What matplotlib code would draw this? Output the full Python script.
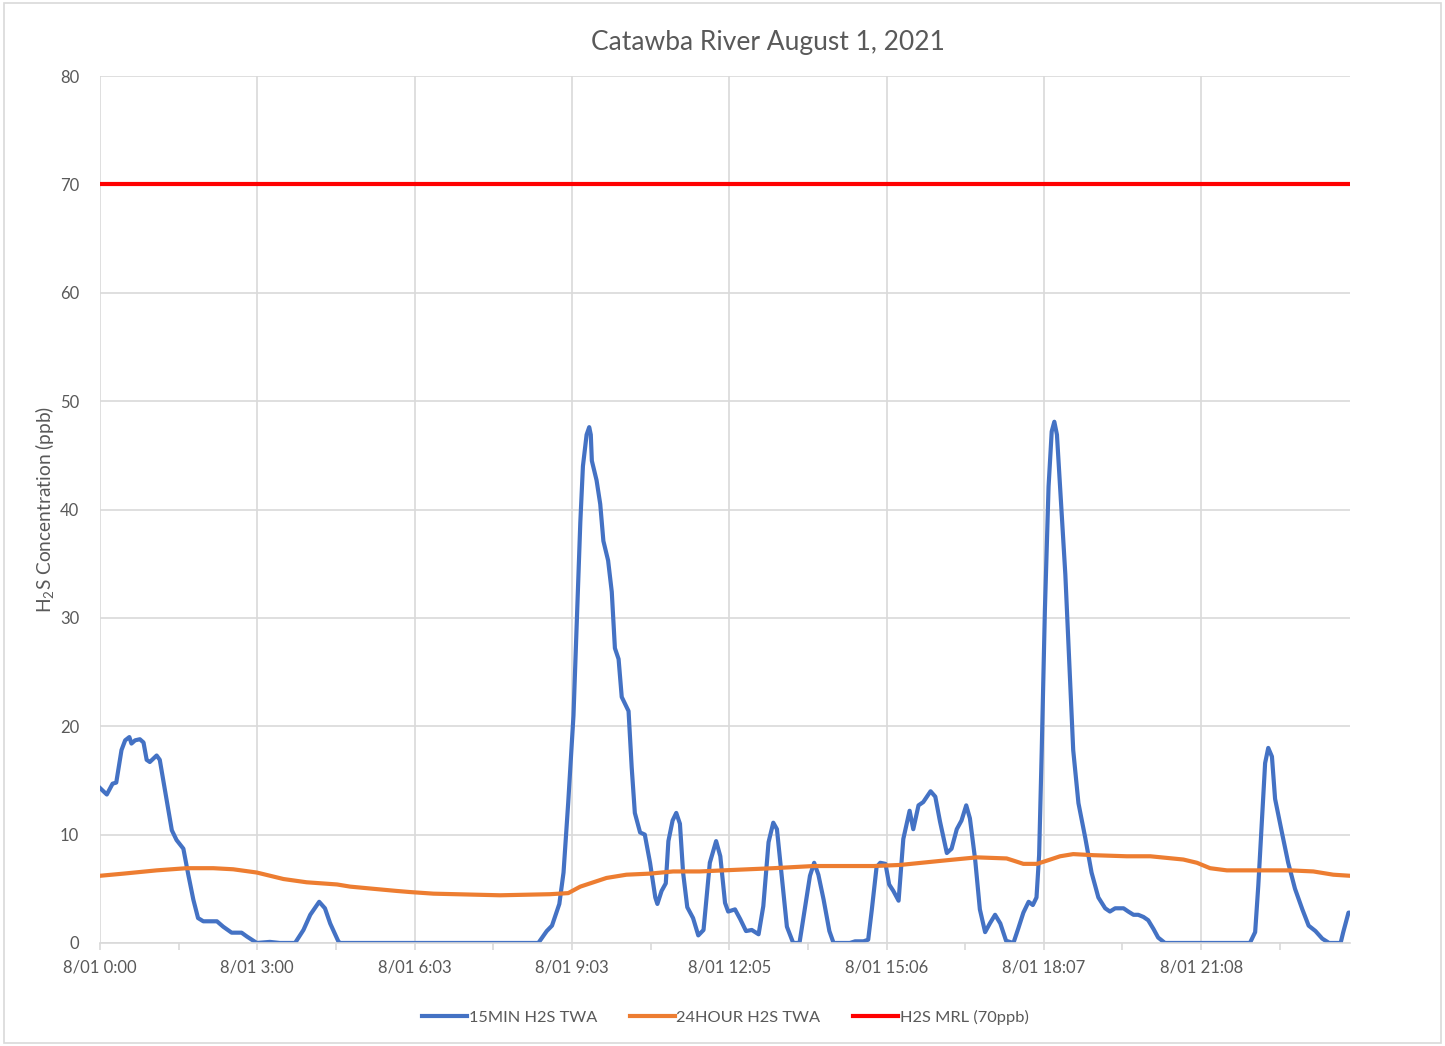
import matplotlib
matplotlib.use('Agg')
import matplotlib.pyplot as plt
from matplotlib.patches import Rectangle

plt.rcParams['font.family'] = ['Lato', 'DejaVu Sans']
plt.rcParams['mathtext.fontset'] = 'custom'
plt.rcParams['mathtext.rm'] = 'Lato'
plt.rcParams['mathtext.it'] = 'Lato:italic'

# hours since 8/01 0:00 and H2S (ppb)
t15 = [0.00, 0.13, 0.24, 0.31, 0.41, 0.48, 0.56, 0.60, 0.67, 0.76, 0.83, 0.89, 0.95, 1.08, 1.14,
       1.27, 1.37, 1.46, 1.59, 1.68, 1.78, 1.87, 1.97, 2.23, 2.35, 2.51, 2.70, 2.80, 2.99, 3.24,
       3.43, 3.72, 3.88, 4.01, 4.18, 4.29, 4.39, 4.55, 4.58, 8.36, 8.52, 8.62, 8.76, 8.84, 8.93,
       9.03, 9.09, 9.16, 9.21, 9.28, 9.33, 9.36, 9.38, 9.47, 9.54, 9.60, 9.69, 9.76, 9.82, 9.89,
       9.95, 10.08, 10.14, 10.20, 10.30, 10.39, 10.49, 10.59, 10.63, 10.71, 10.79, 10.84, 10.92,
       10.99, 11.06, 11.12, 11.20, 11.31, 11.41, 11.51, 11.63, 11.75, 11.83, 11.92, 11.98, 12.11,
       12.21, 12.32, 12.43, 12.56, 12.65, 12.75, 12.84, 12.91, 13.00, 13.10, 13.22, 13.34, 13.45,
       13.54, 13.62, 13.70, 13.80, 13.91, 13.99, 14.30, 14.40, 14.56, 14.65, 14.72, 14.81, 14.88,
       14.98, 15.05, 15.13, 15.23, 15.32, 15.44, 15.51, 15.61, 15.70, 15.84, 15.93, 16.02, 16.15,
       16.24, 16.34, 16.43, 16.52, 16.59, 16.69, 16.78, 16.88, 16.97, 17.07, 17.17, 17.28, 17.42,
       17.51, 17.61, 17.71, 17.79, 17.86, 17.91, 17.96, 18.02, 18.09, 18.15, 18.20, 18.25, 18.31,
       18.41, 18.50, 18.56, 18.66, 18.79, 18.91, 19.04, 19.17, 19.26, 19.36, 19.52, 19.61, 19.71,
       19.80, 19.90, 19.99, 20.09, 20.18, 20.31, 21.93, 22.03, 22.09, 22.16, 22.22, 22.28, 22.35,
       22.41, 22.54, 22.66, 22.79, 22.93, 23.05, 23.18, 23.31, 23.44, 23.66, 23.71, 23.81, 23.84]
twa15 = [14.3, 13.7, 14.7, 14.8, 17.8, 18.7, 19.0, 18.4, 18.7, 18.8, 18.5, 16.9, 16.7, 17.3, 16.9,
         13.2, 10.4, 9.5, 8.7, 6.4, 4.0, 2.3, 2.0, 2.0, 1.5, 0.95, 0.95, 0.6, 0.0, 0.1,
         0.0, 0.0, 1.2, 2.6, 3.8, 3.2, 1.8, 0.1, 0.0, 0.0, 1.1, 1.6, 3.6, 6.5, 13.0,
         21.0, 29.1, 38.8, 44.0, 46.9, 47.6, 46.9, 44.5, 42.7, 40.5, 37.1, 35.3, 32.4, 27.2, 26.2,
         22.7, 21.4, 16.2, 12.0, 10.2, 10.0, 7.4, 4.2, 3.6, 4.8, 5.5, 9.4, 11.3,
         12.0, 11.0, 6.5, 3.3, 2.3, 0.7, 1.2, 7.4, 9.4, 8.0, 3.7, 2.9, 3.1,
         2.2, 1.1, 1.2, 0.8, 3.4, 9.3, 11.1, 10.5, 6.2, 1.5, 0.0, 0.0, 3.4,
         6.2, 7.4, 6.3, 4.0, 1.1, 0.0, 0.0, 0.15, 0.15, 0.3, 3.1, 7.0, 7.4,
         7.3, 5.4, 4.8, 3.9, 9.6, 12.2, 10.5, 12.7, 13.0, 14.0, 13.5, 11.2, 8.3,
         8.7, 10.5, 11.3, 12.7, 11.5, 7.7, 3.1, 1.0, 1.8, 2.6, 1.8, 0.2, 0.0,
         1.3, 2.8, 3.8, 3.5, 4.2, 8.1, 17.8, 30.7, 42.1, 47.2, 48.1, 46.9, 42.1,
         34.0, 24.3, 17.8, 12.9, 9.7, 6.5, 4.2, 3.2, 2.9, 3.2, 3.2, 2.9, 2.6,
         2.6, 2.4, 2.1, 1.3, 0.5, 0.0, 0.0, 1.0, 5.3, 11.4, 16.6, 18.0, 17.2,
         13.3, 10.2, 7.4, 5.0, 3.1, 1.6, 1.1, 0.4, 0.0, 0.0, 1.0, 2.8, 2.8]

t24 = [0.00, 0.45, 1.08, 1.65, 2.16, 2.54, 2.99, 3.50, 3.94, 4.52, 4.77, 5.21, 5.66, 5.91, 6.36,
       7.63, 8.58, 8.93, 9.16, 9.41, 9.66, 10.04, 10.49, 10.93, 11.44, 11.89, 12.84, 13.61, 14.75,
       15.26, 16.08, 16.72, 17.29, 17.42, 17.61, 17.87, 18.06, 18.31, 18.56, 18.95, 19.58, 20.03,
       20.66, 20.92, 21.17, 21.49, 22.12, 22.70, 23.14, 23.52, 23.84]
twa24 = [6.2, 6.4, 6.7, 6.9, 6.9, 6.8, 6.5, 5.9, 5.6, 5.4, 5.2, 5.0, 4.8, 4.7, 4.55,
         4.4, 4.5, 4.6, 5.2, 5.6, 6.0, 6.3, 6.4, 6.6, 6.6, 6.7, 6.9, 7.1, 7.1,
         7.2, 7.6, 7.9, 7.8, 7.6, 7.3, 7.3, 7.6, 8.0, 8.2, 8.1, 8.0, 8.0,
         7.7, 7.4, 6.9, 6.7, 6.7, 6.7, 6.6, 6.3, 6.2]

mrl = 70
tick_hours = [0, 3, 6, 9, 12, 15, 18, 21]
tick_labels = ['8/01 0:00', '8/01 3:00', '8/01 6:03', '8/01 9:03',
               '8/01 12:05', '8/01 15:06', '8/01 18:07', '8/01 21:08']

gray = '#595959'
grid = '#d9d9d9'

fig = plt.figure(figsize=(14.45, 10.46), dpi=100)
ax = fig.add_axes([0.0692, 0.0985, 0.8651, 0.8288])

ax.plot(t15, twa15, color='#4472c4', lw=3, label='15MIN H2S TWA', solid_joinstyle='round')
ax.plot(t24, twa24, color='#ed7d31', lw=3, label='24HOUR H2S TWA')
ax.plot([t15[0], t15[-1]], [mrl, mrl], color='#ff0000', lw=3, label='H2S MRL (70ppb)')

ax.set_xlim(0, t15[-1])
ax.set_ylim(0, 80)
ax.set_yticks(range(0, 81, 10))
ax.set_xticks(tick_hours)
ax.set_xticklabels(tick_labels)
ax.set_xticks([1.5 + 3 * i for i in range(8)], minor=True)
ax.grid(True, color=grid, lw=1.2)
ax.set_axisbelow(True)
for s in ['top', 'right', 'left']:
    ax.spines[s].set_visible(False)
ax.spines['bottom'].set_color(grid)
ax.spines['bottom'].set_linewidth(1.2)
ax.tick_params(axis='y', length=0, pad=15, labelsize=12, labelcolor=gray)
ax.tick_params(axis='x', which='both', length=5, color=grid, width=1.2, pad=7,
               labelsize=12, labelcolor=gray)

ax.set_title('Catawba River August 1, 2021', fontsize=19, color=gray, pad=19, x=0.534)
ax.set_ylabel(r'H$_2$S Concentration (ppb)', fontsize=13.8, color=gray, labelpad=3)

fig.legend(loc='center', bbox_to_anchor=(0.502, 0.0277), ncol=3, frameon=False,
           fontsize=11.8, handlelength=2.75, handletextpad=0.1, columnspacing=2.0,
           labelcolor=gray)

fig.patches.append(Rectangle((0.003, 0.003), 0.994, 0.994, transform=fig.transFigure,
                             fill=False, edgecolor=grid, lw=1.2))

fig.savefig('out.png', dpi=100)
